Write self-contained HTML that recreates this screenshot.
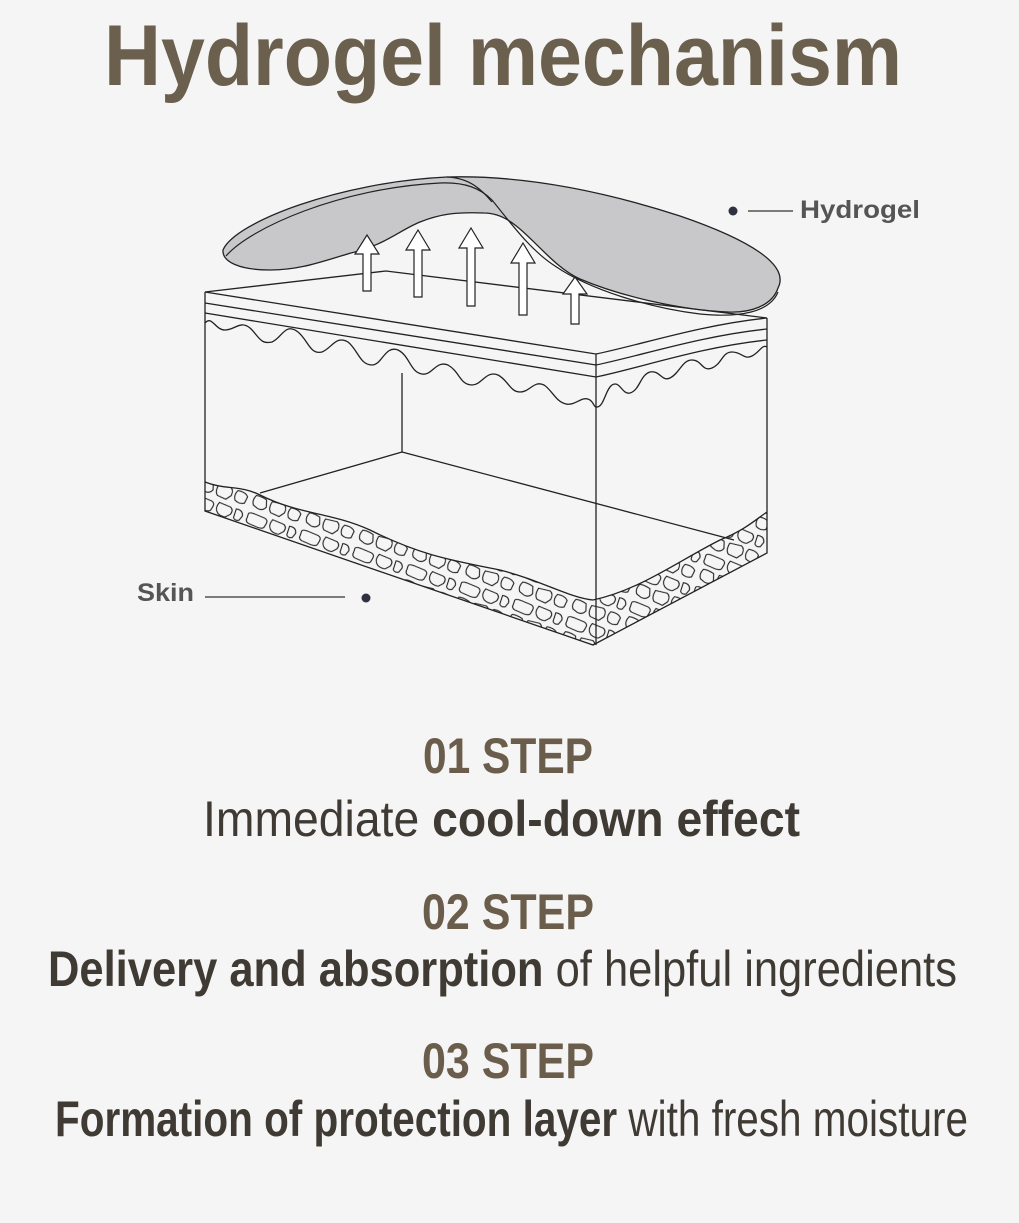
<!DOCTYPE html>
<html><head><meta charset="utf-8"><style>
html,body{margin:0;padding:0;background:#f5f5f5;}
svg{display:block;}
</style></head><body>
<svg width="1019" height="1223" viewBox="0 0 1019 1223" xmlns="http://www.w3.org/2000/svg">
<defs>
<pattern id="stones" width="56" height="34" patternUnits="userSpaceOnUse" patternTransform="rotate(18)">
<path d="M3,4 Q3,2 8,2 L20,3 Q24,4 23,8 L22,12 Q21,14 16,14 L6,13 Q2,12 3,8 Z" fill="none" stroke="#222" stroke-width="1.1"/>
<path d="M28,2 L40,3 Q44,5 42,10 L38,14 Q34,15 30,13 Q26,10 27,5 Z" fill="none" stroke="#222" stroke-width="1.1"/>
<path d="M46,3 Q53,2 54,8 L52,13 Q48,15 46,12 Z" fill="none" stroke="#222" stroke-width="1.1"/>
<path d="M5,18 Q10,17 16,19 L18,26 Q16,31 10,30 L5,28 Q2,24 5,18 Z" fill="none" stroke="#222" stroke-width="1.1"/>
<path d="M22,19 L34,18 Q38,20 37,26 L33,31 L24,30 Q20,27 22,19 Z" fill="none" stroke="#222" stroke-width="1.1"/>
<path d="M42,19 Q50,18 53,22 L52,29 Q47,32 42,29 Q39,24 42,19 Z" fill="none" stroke="#222" stroke-width="1.1"/>
</pattern>
<clipPath id="bandL"><path d="M205,482 C225,490 240,485 260,495 C300,515 330,512 370,530 C420,555 450,560 500,570 C540,580 570,598 593,600 L593,645 L205,511 Z"/></clipPath>
<clipPath id="bandR"><path d="M593,600 C640,590 680,560 720,540 C745,530 755,520 767,512 L767,553 L593,645 Z"/></clipPath>
</defs>

<text x="503" y="85" text-anchor="middle" font-family="Liberation Sans, sans-serif" font-weight="bold" font-size="86" fill="#6b5f4e" textLength="798" lengthAdjust="spacingAndGlyphs">Hydrogel mechanism</text>

<g fill="none" stroke="#222" stroke-width="1.3">
<path d="M205,292 L386,271 L767,318" />
<path d="M205,292 L596,354 L596,645" />
<path d="M205,303 L596,365"/>
<path d="M205,313 L596,377"/>
<path d="M596,354 C640,345 700,325 767,318"/>
<path d="M596,365 C640,356 700,336 767,329"/>
<path d="M596,377 C640,368 700,347 767,340"/>
<path d="M205,292 L205,511 L593,645 L767,553 L767,318"/>
<path d="M205,323 C212,315 215,330 225,330 C235,330 240,320 250,328 C258,335 260,345 272,342 C282,338 285,322 298,332 C308,340 310,355 322,352 C332,348 336,335 348,342 C358,350 360,365 372,365 C382,365 385,345 398,350 C410,356 410,372 422,374 C432,376 436,360 448,365 C460,372 460,385 472,385 C482,385 486,370 498,375 C508,380 510,392 520,392 C530,392 534,380 544,385 C552,390 556,402 566,404 C576,406 582,395 590,400 C594,403 594,407 596,407"/>
<path d="M596,407 C604,408 605,390 612,385 C620,380 622,395 630,393 C640,390 640,375 650,372 C660,370 662,382 670,378 C680,373 682,360 692,360 C702,360 702,372 712,368 C722,364 722,352 732,352 C742,352 744,360 752,356 C760,352 762,344 767,347"/>
<path d="M402,373 L402,452 L260,493"/>
<path d="M402,452 L734,540"/>
<path d="M205,482 C225,490 240,485 260,495 C300,515 330,512 370,530 C420,555 450,560 500,570 C540,580 570,598 593,600"/>
<path d="M593,600 C640,590 680,560 720,540 C745,530 755,520 767,512"/>
</g>
<rect x="200" y="470" width="400" height="180" fill="url(#stones)" clip-path="url(#bandL)"/>
<rect x="590" y="500" width="180" height="150" fill="url(#stones)" clip-path="url(#bandR)"/>

<!-- hydrogel -->
<path d="M223,250 C235,222 340,182 447,177 C520,175 600,190 680,216 C750,240 790,265 778,288 C772,306 750,313 728,312 C680,310 620,296 580,279 C555,268 535,240 515,225 C505,217 495,213 484,213 C455,212 440,214 420,222 C400,230 385,245 351,253 C320,262 300,270 270,270 C240,270 222,262 223,250 Z" fill="#c8c8cb" stroke="#222" stroke-width="1.3"/>
<path d="M226,256 C250,228 340,188 440,183 C465,182 480,188 492,200 C510,222 530,250 555,266 C590,290 650,308 700,314 C740,318 770,312 778,292" fill="none" stroke="#222" stroke-width="1.2"/>
<path d="M447,177 C470,178 482,190 492,202" fill="none" stroke="#222" stroke-width="1.2"/>

<g fill="#fff" stroke="#222" stroke-width="1.2">
<path d="M363,291 L363,254 L355,254 L367,235 L379,254 L371,254 L371,291 Z"/>
<path d="M414,297 L414,250 L406,250 L418,230 L430,250 L422,250 L422,297 Z"/>
<path d="M467,306 L467,248 L459,248 L471,228 L483,248 L475,248 L475,306 Z"/>
<path d="M519,315 L519,263 L511,263 L523,243 L535,263 L527,263 L527,315 Z"/>
<path d="M571,324 L571,294 L563,294 L575,277 L587,294 L579,294 L579,324 Z"/>
</g>

<circle cx="733" cy="211" r="4.5" fill="#2f3140"/>
<line x1="748" y1="211" x2="793" y2="211" stroke="#333" stroke-width="1.2"/>
<text x="800" y="218" font-family="Liberation Sans, sans-serif" font-weight="bold" font-size="25" fill="#555" textLength="120" lengthAdjust="spacingAndGlyphs">Hydrogel</text>
<text x="137" y="601" font-family="Liberation Sans, sans-serif" font-weight="bold" font-size="25" fill="#555" textLength="57" lengthAdjust="spacingAndGlyphs">Skin</text>
<line x1="205" y1="597" x2="345" y2="597" stroke="#333" stroke-width="1.2"/>
<circle cx="366" cy="598" r="4.5" fill="#2f3140"/>

<g font-family="Liberation Sans, sans-serif" font-size="50">
<text x="508" y="773" text-anchor="middle" font-weight="bold" fill="#6b5d4b" textLength="170" lengthAdjust="spacingAndGlyphs">01 STEP</text>
<text x="203" y="836" fill="#3f3a33" textLength="597" lengthAdjust="spacingAndGlyphs"><tspan>Immediate </tspan><tspan font-weight="bold">cool-down effect</tspan></text>
<text x="508" y="929" text-anchor="middle" font-weight="bold" fill="#6b5d4b" textLength="172" lengthAdjust="spacingAndGlyphs">02 STEP</text>
<text x="48" y="986" fill="#3f3a33" textLength="909" lengthAdjust="spacingAndGlyphs"><tspan font-weight="bold">Delivery and absorption</tspan><tspan> of helpful ingredients</tspan></text>
<text x="508" y="1078" text-anchor="middle" font-weight="bold" fill="#6b5d4b" textLength="172" lengthAdjust="spacingAndGlyphs">03 STEP</text>
<text x="55" y="1136" fill="#3f3a33" textLength="913" lengthAdjust="spacingAndGlyphs"><tspan font-weight="bold">Formation of protection layer</tspan><tspan> with fresh moisture</tspan></text>
</g>
</svg>
</body></html>
